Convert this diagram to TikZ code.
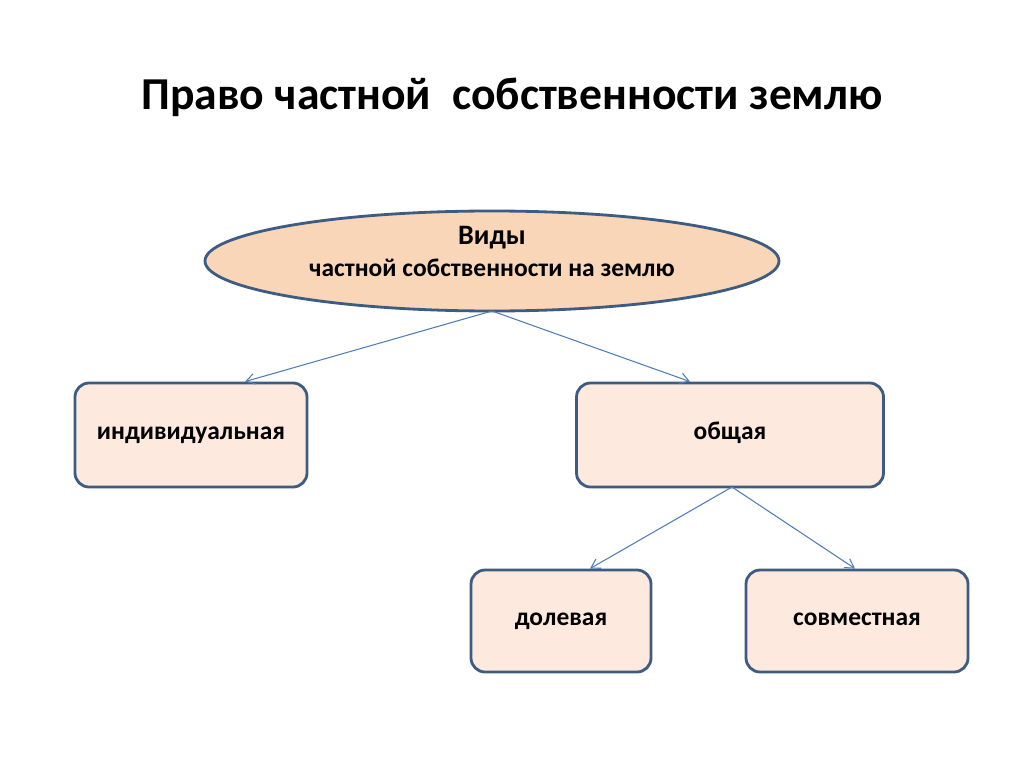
\documentclass[tikz,border=0pt]{standalone}
\usepackage{fontspec}
\setmainfont{Carlito}
\usetikzlibrary{shapes.geometric,arrows.meta}
\definecolor{bordc}{HTML}{3E5B82}
\definecolor{ellf}{HTML}{FAD6B8}
\definecolor{boxf}{HTML}{FDE9DD}
\definecolor{linec}{HTML}{4F7DB8}
\tikzset{
 boxst/.style={draw=bordc,line width=1.6pt,fill=boxf,rounded corners=8pt,font=\bfseries\fontsize{14.5}{17}\selectfont,text height=1.55ex,text depth=0.45ex},
 conn/.style={draw=linec,line width=0.6pt,-{Straight Barb[length=5pt,width=6pt]}}
}
\begin{document}
\begin{tikzpicture}[x=0.02cm,y=-0.02cm]
\useasboundingbox[fill=white] (0,0) rectangle (1024,767);
\node[font=\bfseries\fontsize{26}{30}\selectfont] (title) at (512,97) {Право частной\ \ собственности землю};
\node[ellipse,draw=bordc,line width=1.6pt,fill=ellf,minimum width=574*0.02cm,minimum height=100*0.02cm,inner sep=0pt] (e) at (492,261) {};
\node[font=\bfseries\fontsize{16}{18}\selectfont] (e1) at (492,238) {Виды};
\node[font=\bfseries\fontsize{14.5}{18}\selectfont] (e2) at (492,268) {частной собственности на землю};
\node[boxst,minimum width=232*0.02cm,minimum height=104*0.02cm] (ind) at (191,435) {индивидуальная};
\node[boxst,minimum width=307*0.02cm,minimum height=104*0.02cm] (ob) at (730,435) {общая};
\node[boxst,minimum width=180*0.02cm,minimum height=102*0.02cm] (dol) at (561,621) {долевая};
\node[boxst,minimum width=222*0.02cm,minimum height=102*0.02cm] (sov) at (857,621) {совместная};
\coordinate (eb) at (492,311);
\coordinate (ob1) at (732,487);
\draw[conn] (eb) -- (ind.north -| 245,0);
\draw[conn] (eb) -- (ob.north -| 690,0);
\draw[conn] (ob1) -- (dol.north -| 590,0);
\draw[conn] (ob1) -- (sov.north -| 855,0);
\end{tikzpicture}
\end{document}
